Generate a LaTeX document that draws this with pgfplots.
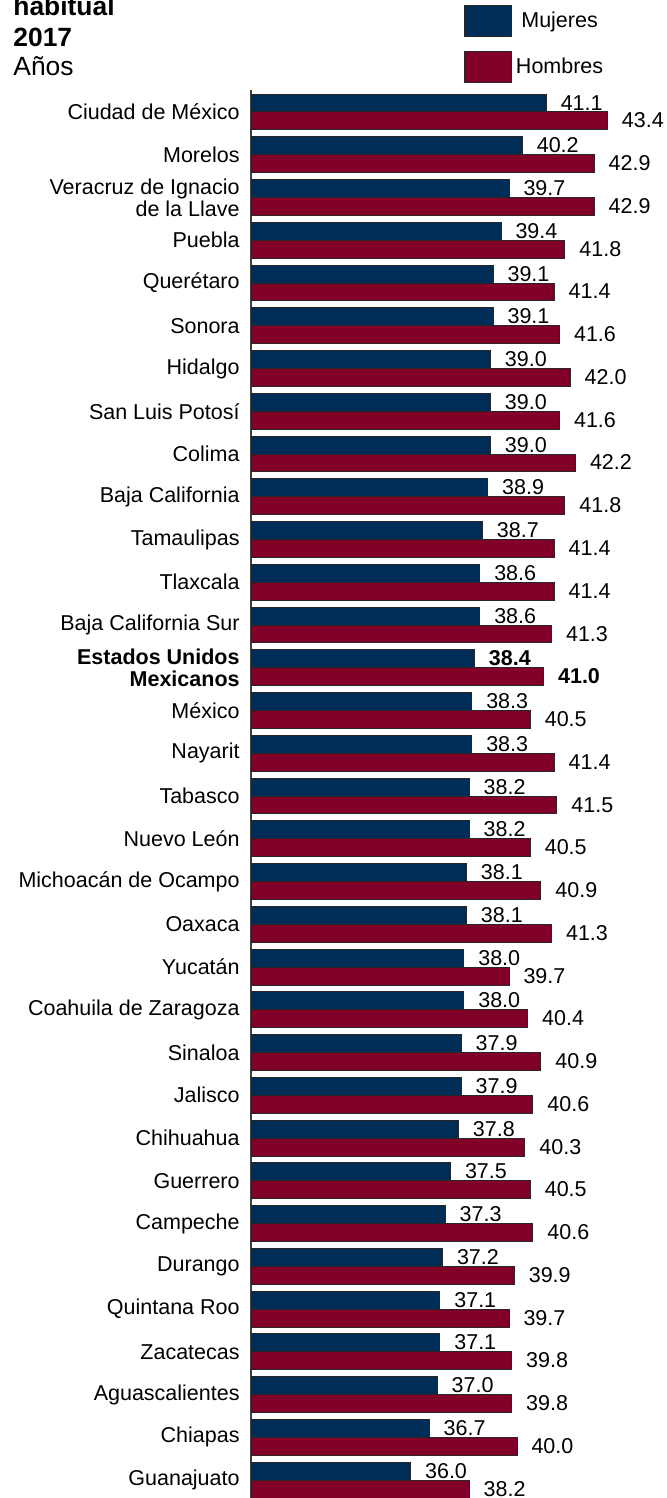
\documentclass[border=0pt]{standalone}
\usepackage{fontspec}
\setmainfont{Liberation Sans}
\usepackage{pgfplots}
\pgfplotsset{compat=1.18}
\usepackage{pgfplotstable}
\definecolor{muj}{HTML}{002D57}
\definecolor{hom}{HTML}{800028}
\newcommand{\chartfont}{\fontsize{10.75}{11}\selectfont}
\newcommand{\titlefont}{\fontsize{13.2}{15}\selectfont}
\newcommand{\B}[1]{\textbf{#1}}

\pgfplotstableread[col sep=comma]{
y,m,h,ml,hl
0,41.1,43.4,41.1,43.4
1,40.2,42.9,40.2,42.9
2,39.7,42.9,39.7,42.9
3,39.4,41.8,39.4,41.8
4,39.1,41.4,39.1,41.4
5,39.1,41.6,39.1,41.6
6,39.0,42.0,39.0,42.0
7,39.0,41.6,39.0,41.6
8,39.0,42.2,39.0,42.2
9,38.9,41.8,38.9,41.8
10,38.7,41.4,38.7,41.4
11,38.6,41.4,38.6,41.4
12,38.6,41.3,38.6,41.3
13,38.4,41.0,\B{38.4},\B{41.0}
14,38.3,40.5,38.3,40.5
15,38.3,41.4,38.3,41.4
16,38.2,41.5,38.2,41.5
17,38.2,40.5,38.2,40.5
18,38.1,40.9,38.1,40.9
19,38.1,41.3,38.1,41.3
20,38.0,39.7,38.0,39.7
21,38.0,40.4,38.0,40.4
22,37.9,40.9,37.9,40.9
23,37.9,40.6,37.9,40.6
24,37.8,40.3,37.8,40.3
25,37.5,40.5,37.5,40.5
26,37.3,40.6,37.3,40.6
27,37.2,39.9,37.2,39.9
28,37.1,39.7,37.1,39.7
29,37.1,39.8,37.1,39.8
30,37.0,39.8,37.0,39.8
31,36.7,40.0,36.7,40.0
32,36.0,38.2,36.0,38.2
}\datatable

\begin{document}
\begin{tikzpicture}
\path[use as bounding box] (0pt,0pt) rectangle (333pt,-749pt);
\node[anchor=base west, inner sep=0pt, font=\titlefont\bfseries] at (6.5pt,-8pt) {habitual};
\node[anchor=base west, inner sep=0pt, font=\titlefont\bfseries] at (6.5pt,-23.5pt) {2017};
\node[anchor=base west, inner sep=0pt, font=\titlefont] at (6.5pt,-38pt) {Años};
\begin{axis}[
  at={(125.5pt,-45pt)}, anchor=north west,
  width=199.5pt, height=704pt, scale only axis,
  xmin=30, xmax=45, ymin=-0.514, ymax=32.42, y dir=reverse,
  xbar, bar width=0.42,
  axis x line=none, axis y line*=left,
  y axis line style={draw=black!75, line width=0.6pt},
  xtick=\empty,
  ytick={0,...,32},
  yticklabels={Ciudad de México, Morelos, {Veracruz de Ignacio\\de la Llave}, Puebla, Querétaro, Sonora, Hidalgo, San Luis Potosí, Colima, Baja California, Tamaulipas, Tlaxcala, Baja California Sur, {\textbf{Estados Unidos}\\\textbf{Mexicanos}}, México, Nayarit, Tabasco, Nuevo León, Michoacán de Ocampo, Oaxaca, Yucatán, Coahuila de Zaragoza, Sinaloa, Jalisco, Chihuahua, Guerrero, Campeche, Durango, Quintana Roo, Zacatecas, Aguascalientes, Chiapas, Guanajuato},
  yticklabel style={align=right, font=\chartfont, inner sep=0pt, xshift=-5.5pt},
  major tick length=0pt,
  clip=false,
  legend style={at={(axis description cs:0.5338,1.0604)}, anchor=north west, draw=none, fill=none, inner sep=0pt, outer sep=0pt, row sep=7pt, column sep=2pt, font=\chartfont, nodes={inner sep=0pt}},
  legend image code/.code={\draw[#1] (0pt,-7.75pt) rectangle (23.5pt,7.75pt);},
  nodes near coords style={anchor=base west, inner sep=0pt, xshift=7pt, yshift=-3.5pt, font=\chartfont},
]
\addplot[fill=muj, draw=black!85, line width=0.5pt, bar shift=-0.21,
  point meta=explicit symbolic, nodes near coords]
  table[x=m, y=y, meta=ml]{\datatable};
\addlegendentry{Mujeres}
\addplot[fill=hom, draw=black!85, line width=0.5pt, bar shift=0.21,
  point meta=explicit symbolic, nodes near coords]
  table[x=h, y=y, meta=hl]{\datatable};
\addlegendentry{Hombres}
\end{axis}
\end{tikzpicture}
\end{document}
